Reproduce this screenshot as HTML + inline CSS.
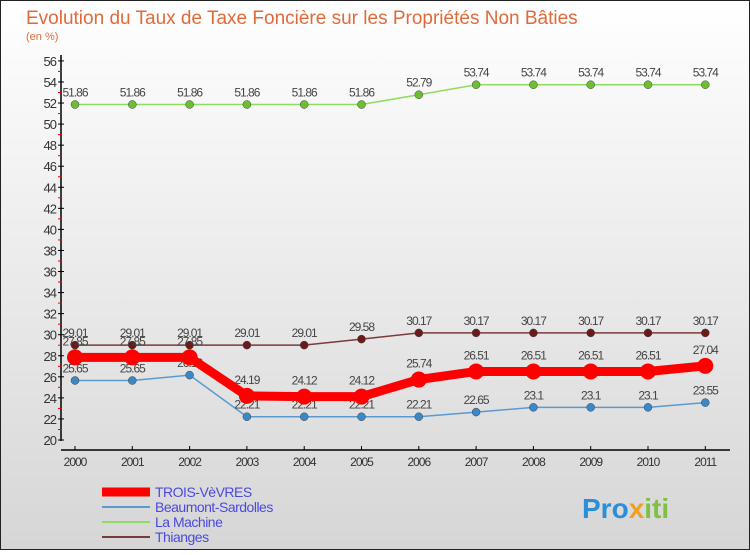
<!DOCTYPE html>
<html><head><meta charset="utf-8"><style>
body{margin:0;width:750px;height:550px;overflow:hidden;font-family:"Liberation Sans",sans-serif}
</style></head><body>
<svg width="750" height="550" xmlns="http://www.w3.org/2000/svg">
<defs><linearGradient id="bg" x1="0" y1="0" x2="0" y2="1"><stop offset="0" stop-color="#ffffff"/><stop offset="1" stop-color="#d6d6d6"/></linearGradient></defs>
<rect x="0.5" y="0.5" width="749" height="549" fill="url(#bg)" stroke="#222"/>
<text x="26" y="24" font-size="19" fill="#e06a3a">Evolution du Taux de Taxe Foncière sur les Propriétés Non Bâties</text>
<text x="26" y="40" font-size="11" fill="#e06a3a">(en %)</text>
<g id="axes"></g><g id="series"></g><g id="legend"></g>
<text x="582" y="518" font-size="28" font-weight="bold" fill="#2a8fd8">Pro<tspan fill="#f0a020">x</tspan><tspan fill="#80c040">iti</tspan></text>
</svg>
<script>
const years=["2000","2001","2002","2003","2004","2005","2006","2007","2008","2009","2010","2011"];
const yTicks=[20,22,24,26,28,30,32,34,36,38,40,42,44,46,48,50,52,54,56];
const trois=[27.85,27.85,27.85,24.19,24.12,24.12,25.74,26.51,26.51,26.51,26.51,27.04];
const beaumont=[25.65,25.65,26.16,22.21,22.21,22.21,22.21,22.65,23.1,23.1,23.1,23.55];
const machine=[51.86,51.86,51.86,51.86,51.86,51.86,52.79,53.74,53.74,53.74,53.74,53.74];
const thianges=[29.01,29.01,29.01,29.01,29.01,29.58,30.17,30.17,30.17,30.17,30.17,30.17];
const names=["TROIS-VèVRES","Beaumont-Sardolles","La Machine","Thianges"];
const NS="http://www.w3.org/2000/svg";
const X=i=>75+i*57.3, Y=v=>440-(v-20)*10.53;
function el(t,a,p){const e=document.createElementNS(NS,t);for(const k in a)e.setAttribute(k,a[k]);p.appendChild(e);return e;}
const ax=document.getElementById('axes');
let l=el('line',{x1:61,y1:55,x2:61,y2:441,stroke:'#000','stroke-width':1.5},ax);


l=el('line',{x1:61,y1:450,x2:730,y2:450,stroke:'#000','stroke-width':1.5},ax);


yTicks.forEach(v=>{el('line',{x1:58,y1:Y(v),x2:64,y2:Y(v),stroke:'#000'},ax);
 if(v<56)el('line',{x1:58,y1:Y(v+1),x2:62,y2:Y(v+1),stroke:'#e00'},ax);
 const t=el('text',{x:56,y:Y(v)+5,'font-size':13,fill:'#333','text-anchor':'end','letter-spacing':'-1'},ax);t.textContent=v;
 
 });
years.forEach((y,i)=>{el('line',{x1:X(i),y1:446,x2:X(i),y2:450,stroke:'#000'},ax);
 const t=el('text',{x:X(i),y:466,'font-size':12,fill:'#333','text-anchor':'middle','letter-spacing':'-1'},ax);t.textContent=y;
 
 });
const sg=document.getElementById('series');
const defs=[[machine,'#90dc60','#6cc030',1.5,4,'la-machine'],[thianges,'#7a3a3a','#6a1a1a',1.5,4,'thianges'],[beaumont,'#5a9ad0','#3a88c8',1.5,4,'beaumont-sardolles'],[trois,'#ff0000','#ff0000',9,8,'trois-vevres']];
defs.forEach(([d,c,pc,w,r,n])=>{
 const g=el('g',{},sg);
 
 
 el('polyline',{points:d.map((v,i)=>X(i)+','+Y(v)).join(' '),fill:'none',stroke:c,'stroke-width':w},g);
 d.forEach((v,i)=>{const p=el('circle',{cx:X(i),cy:Y(v),r:r,fill:pc,stroke:r>5?'none':'#444','stroke-width':0.5},g);
  
  
  const t=el('text',{x:X(i),y:Y(v)-(r>5?12:8),'font-size':12,fill:'#444','text-anchor':'middle','letter-spacing':'-1'},g);t.textContent=v;
  
  });
});
const lg=document.getElementById('legend');
const lc=[['#ff0000',9],['#5a9ad0',2],['#90dc60',2],['#7a3a3a',2]];
names.forEach((n,i)=>{const y=492+i*15;
 const g=el('g',{},lg);
 
 
 el('line',{x1:102,y1:y,x2:150,y2:y,stroke:lc[i][0],'stroke-width':lc[i][1]},g);
 const t=el('text',{x:155,y:y+5,'font-size':14,fill:'#4a4ae0','letter-spacing':'-0.5'},g);t.textContent=n;});
</script>
</body></html>
